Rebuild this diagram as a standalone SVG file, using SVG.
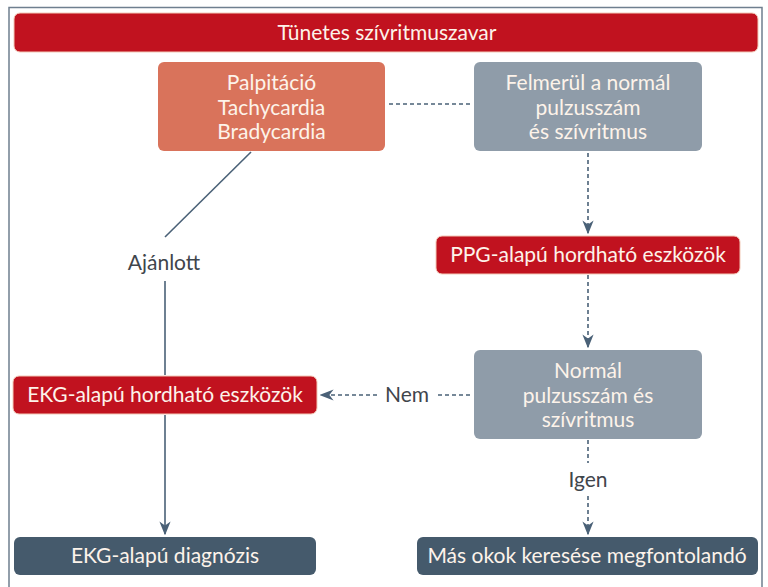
<svg xmlns="http://www.w3.org/2000/svg" width="768" height="587" viewBox="0 0 768 587">
<defs>
<style>
text{font-family:"Lato","Open Sans",sans-serif;text-anchor:middle;}
.w{fill:#fdf3ea;font-size:21px;}
.lbl{fill:#3f454c;font-size:21px;}
.red{fill:#c1121f;stroke:#f2c9b8;stroke-width:1;}
.sal{fill:#d9735b;}
.gray{fill:#8f9ca9;}
.dark{fill:#455a6c;}
.ln{stroke:#4a6177;stroke-width:1.6;fill:none;}
.ds{stroke:#4a6177;stroke-width:1.6;fill:none;stroke-dasharray:4 3;}
</style>
<marker id="ah2" viewBox="0 0 10 10" refX="9" refY="5" markerWidth="14" markerHeight="14" orient="auto" markerUnits="userSpaceOnUse">
<path d="M0,1 L10,5 L0,9 L3,5 Z" fill="#4a6177"/>
</marker>
</defs>
<rect width="768" height="587" fill="#ffffff"/>
<path d="M9,590 V7.5 H762 V590" fill="none" stroke="#6f7f8f" stroke-width="1.5"/>

<g id="connectors">
<line class="ds" x1="389" y1="104" x2="470" y2="104"/>
<line class="ds" x1="588" y1="153" x2="588" y2="233" marker-end="url(#ah2)"/>
<line class="ds" x1="588" y1="275" x2="588" y2="347" marker-end="url(#ah2)"/>
<line class="ds" x1="470" y1="395" x2="438" y2="395"/>
<line class="ds" x1="377" y1="395" x2="321" y2="395" marker-end="url(#ah2)"/>
<line class="ln" x1="251" y1="152" x2="165" y2="237"/>
<line class="ln" x1="165" y1="281" x2="165" y2="375"/>
<line class="ln" x1="165" y1="415" x2="165" y2="534" marker-end="url(#ah2)"/>
<line class="ds" x1="588" y1="440" x2="588" y2="463"/>
<line class="ds" x1="588" y1="496" x2="588" y2="534" marker-end="url(#ah2)"/>
<text class="lbl" x="164" y="270">Ajánlott</text>
<text class="lbl" x="407" y="402">Nem</text>
<text class="lbl" x="588" y="487">Igen</text>
</g>

<g id="title">
<rect class="red" x="14" y="13" width="744" height="39" rx="6"/>
<text class="w" x="387" y="40">Tünetes szívritmuszavar</text>
</g>
<g id="symptoms">
<rect class="sal" x="158" y="62" width="227" height="89" rx="6"/>
<text class="w" x="271.5" y="90">Palpitáció</text>
<text class="w" x="271.5" y="114.5">Tachycardia</text>
<text class="w" x="271.5" y="139">Bradycardia</text>
</g>
<g id="suspect">
<rect class="gray" x="474" y="62" width="228" height="89" rx="6"/>
<text class="w" x="588" y="90">Felmerül a normál</text>
<text class="w" x="588" y="114.5">pulzusszám</text>
<text class="w" x="588" y="139">és szívritmus</text>
</g>
<g id="ppg">
<rect class="red" x="436" y="236" width="304" height="38" rx="6"/>
<text class="w" x="588" y="262">PPG-alapú hordható eszközök</text>
</g>
<g id="normal">
<rect class="gray" x="474" y="350" width="228" height="89" rx="6"/>
<text class="w" x="588" y="378">Normál</text>
<text class="w" x="588" y="402.5">pulzusszám és</text>
<text class="w" x="588" y="427">szívritmus</text>
</g>
<g id="ekg">
<rect class="red" x="13" y="376" width="304" height="38" rx="6"/>
<text class="w" x="165" y="402">EKG-alapú hordható eszközök</text>
</g>
<g id="diag">
<rect class="dark" x="14" y="537" width="302" height="38" rx="6"/>
<text class="w" x="165" y="563">EKG-alapú diagnózis</text>
</g>
<g id="other">
<rect class="dark" x="417" y="537" width="341" height="38" rx="6"/>
<text class="w" x="587" y="563">Más okok keresése megfontolandó</text>
</g>
</svg>
